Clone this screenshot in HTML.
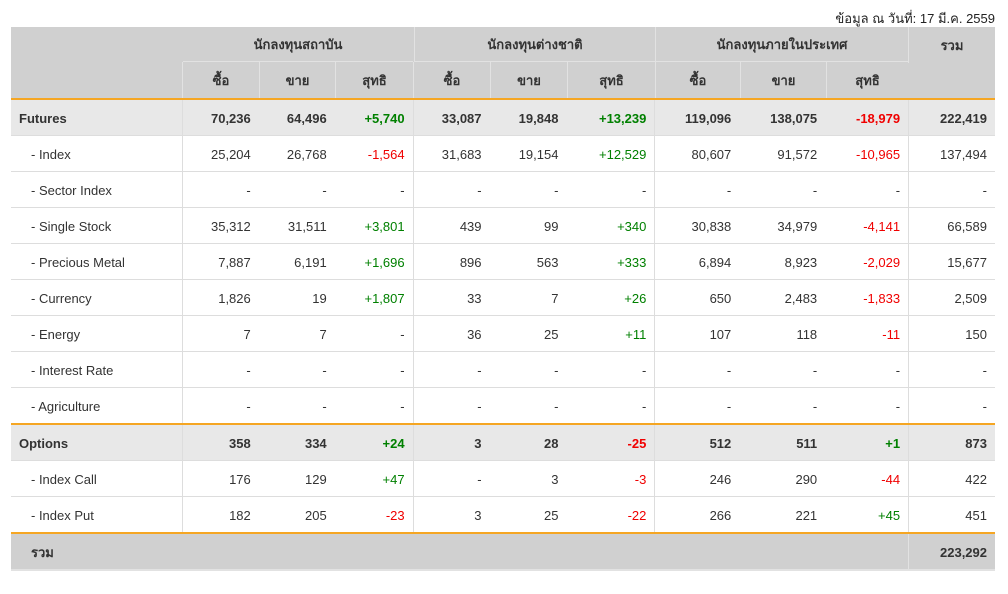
<!DOCTYPE html>
<html><head><meta charset="utf-8">
<style>
*{margin:0;padding:0;box-sizing:border-box}
body{width:1008px;height:594px;background:#fff;font-family:"Liberation Sans",Arial,sans-serif;font-size:13px;color:#333;position:relative;overflow:hidden}
.date{position:absolute;right:13px;top:8px;font-size:13px;color:#222}
.h{position:absolute;background:#d0d0d0;font-weight:bold;text-align:center;color:#333;display:flex;align-items:center;justify-content:center;padding-top:1px}
.body{position:absolute;left:11px;top:100px;width:984px}
.r{display:flex;height:36px;border-bottom:1px solid #ddd}
.r.cat{background:#e8e8e8;font-weight:bold}
.r.ob{border-bottom:2px solid #f5a623;height:37px}
.c{height:100%;display:flex;align-items:center;justify-content:flex-end;padding-right:8px;padding-top:2px}
.c.l{justify-content:flex-start;padding-left:20px}
.cat .c.l{padding-left:8px}
.g{border-left:1px solid #ddd}
.p{color:#008000}.n{color:#f00000}
.w0{width:171px}.w1{width:77px}.w2{width:76px}.w3{width:78px}.w4{width:77px}.w5{width:77px}.w6{width:88px}.w7{width:85px}.w8{width:86px}.w9{width:83px}.w10{width:87px}
</style></head><body>
<div class="date">ข้อมูล ณ วันที่: 17 มี.ค. 2559</div>
<div style="position:absolute;left:11px;top:27px;width:984px;height:71px;background:#d0d0d0"></div>
<div class="h" style="left:11px;top:27px;width:171px;height:71px"></div>
<div class="h" style="left:183px;top:27px;width:230px;height:35px;border-bottom:1px solid #e2e2e2">นักลงทุนสถาบัน</div>
<div class="h" style="left:414px;top:27px;width:241px;height:35px;border-bottom:1px solid #e2e2e2;border-left:1px solid #e2e2e2">นักลงทุนต่างชาติ</div>
<div class="h" style="left:655px;top:27px;width:253px;height:35px;border-bottom:1px solid #e2e2e2;border-left:1px solid #e2e2e2">นักลงทุนภายในประเทศ</div>
<div class="h" style="left:908px;top:27px;width:87px;height:36px;border-left:1px solid #e2e2e2">รวม</div>
<div class="h" style="left:182px;top:62px;width:77px;height:36px;border-left:1px solid #e2e2e2">ซื้อ</div>
<div class="h" style="left:259px;top:62px;width:76px;height:36px;border-left:1px solid #e2e2e2">ขาย</div>
<div class="h" style="left:335px;top:62px;width:78px;height:36px;border-left:1px solid #e2e2e2">สุทธิ</div>
<div class="h" style="left:413px;top:62px;width:77px;height:36px;border-left:1px solid #e2e2e2">ซื้อ</div>
<div class="h" style="left:490px;top:62px;width:77px;height:36px;border-left:1px solid #e2e2e2">ขาย</div>
<div class="h" style="left:567px;top:62px;width:88px;height:36px;border-left:1px solid #e2e2e2">สุทธิ</div>
<div class="h" style="left:655px;top:62px;width:85px;height:36px;border-left:1px solid #e2e2e2">ซื้อ</div>
<div class="h" style="left:740px;top:62px;width:86px;height:36px;border-left:1px solid #e2e2e2">ขาย</div>
<div class="h" style="left:826px;top:62px;width:82px;height:36px;border-left:1px solid #e2e2e2">สุทธิ</div>
<div style="position:absolute;left:11px;top:98px;width:984px;height:2px;background:#f5a623"></div>

<div class="body">
<div class="r cat"><div class="c l w0">Futures</div><div class="c w1 g">70,236</div><div class="c w2">64,496</div><div class="c w3 p">+5,740</div><div class="c w4 g">33,087</div><div class="c w5">19,848</div><div class="c w6 p">+13,239</div><div class="c w7 g">119,096</div><div class="c w8">138,075</div><div class="c w9 n">-18,979</div><div class="c w10 g">222,419</div></div>
<div class="r"><div class="c l w0">- Index</div><div class="c w1 g">25,204</div><div class="c w2">26,768</div><div class="c w3 n">-1,564</div><div class="c w4 g">31,683</div><div class="c w5">19,154</div><div class="c w6 p">+12,529</div><div class="c w7 g">80,607</div><div class="c w8">91,572</div><div class="c w9 n">-10,965</div><div class="c w10 g">137,494</div></div>
<div class="r"><div class="c l w0">- Sector Index</div><div class="c w1 g">-</div><div class="c w2">-</div><div class="c w3">-</div><div class="c w4 g">-</div><div class="c w5">-</div><div class="c w6">-</div><div class="c w7 g">-</div><div class="c w8">-</div><div class="c w9">-</div><div class="c w10 g">-</div></div>
<div class="r"><div class="c l w0">- Single Stock</div><div class="c w1 g">35,312</div><div class="c w2">31,511</div><div class="c w3 p">+3,801</div><div class="c w4 g">439</div><div class="c w5">99</div><div class="c w6 p">+340</div><div class="c w7 g">30,838</div><div class="c w8">34,979</div><div class="c w9 n">-4,141</div><div class="c w10 g">66,589</div></div>
<div class="r"><div class="c l w0">- Precious Metal</div><div class="c w1 g">7,887</div><div class="c w2">6,191</div><div class="c w3 p">+1,696</div><div class="c w4 g">896</div><div class="c w5">563</div><div class="c w6 p">+333</div><div class="c w7 g">6,894</div><div class="c w8">8,923</div><div class="c w9 n">-2,029</div><div class="c w10 g">15,677</div></div>
<div class="r"><div class="c l w0">- Currency</div><div class="c w1 g">1,826</div><div class="c w2">19</div><div class="c w3 p">+1,807</div><div class="c w4 g">33</div><div class="c w5">7</div><div class="c w6 p">+26</div><div class="c w7 g">650</div><div class="c w8">2,483</div><div class="c w9 n">-1,833</div><div class="c w10 g">2,509</div></div>
<div class="r"><div class="c l w0">- Energy</div><div class="c w1 g">7</div><div class="c w2">7</div><div class="c w3">-</div><div class="c w4 g">36</div><div class="c w5">25</div><div class="c w6 p">+11</div><div class="c w7 g">107</div><div class="c w8">118</div><div class="c w9 n">-11</div><div class="c w10 g">150</div></div>
<div class="r"><div class="c l w0">- Interest Rate</div><div class="c w1 g">-</div><div class="c w2">-</div><div class="c w3">-</div><div class="c w4 g">-</div><div class="c w5">-</div><div class="c w6">-</div><div class="c w7 g">-</div><div class="c w8">-</div><div class="c w9">-</div><div class="c w10 g">-</div></div>
<div class="r ob"><div class="c l w0">- Agriculture</div><div class="c w1 g">-</div><div class="c w2">-</div><div class="c w3">-</div><div class="c w4 g">-</div><div class="c w5">-</div><div class="c w6">-</div><div class="c w7 g">-</div><div class="c w8">-</div><div class="c w9">-</div><div class="c w10 g">-</div></div>
<div class="r cat"><div class="c l w0">Options</div><div class="c w1 g">358</div><div class="c w2">334</div><div class="c w3 p">+24</div><div class="c w4 g">3</div><div class="c w5">28</div><div class="c w6 n">-25</div><div class="c w7 g">512</div><div class="c w8">511</div><div class="c w9 p">+1</div><div class="c w10 g">873</div></div>
<div class="r"><div class="c l w0">- Index Call</div><div class="c w1 g">176</div><div class="c w2">129</div><div class="c w3 p">+47</div><div class="c w4 g">-</div><div class="c w5">3</div><div class="c w6 n">-3</div><div class="c w7 g">246</div><div class="c w8">290</div><div class="c w9 n">-44</div><div class="c w10 g">422</div></div>
<div class="r ob"><div class="c l w0">- Index Put</div><div class="c w1 g">182</div><div class="c w2">205</div><div class="c w3 n">-23</div><div class="c w4 g">3</div><div class="c w5">25</div><div class="c w6 n">-22</div><div class="c w7 g">266</div><div class="c w8">221</div><div class="c w9 p">+45</div><div class="c w10 g">451</div></div>
<div class="r" style="background:#d0d0d0;font-weight:bold;height:37px;border-bottom:2px solid #e2e2e2"><div class="c l" style="width:897px">รวม</div><div class="c w10" style="border-left:1px solid #e2e2e2">223,292</div></div>
</div>
</body></html>
